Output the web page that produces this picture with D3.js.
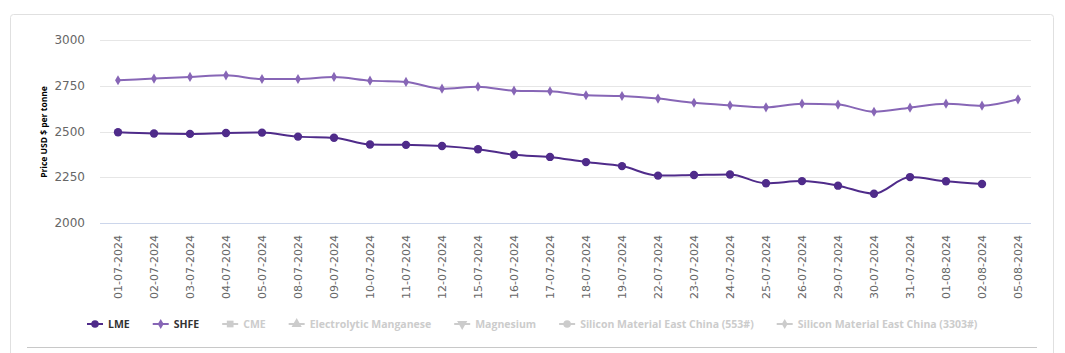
<!DOCTYPE html>
<html>
<head>
<meta charset="utf-8">
<script src="https://cdn.jsdelivr.net/npm/d3@7/dist/d3.min.js"></script>
<style>
  body { margin: 0; background: #fff; }
  svg { display: block; font-family: "DejaVu Sans", sans-serif; }
  .frame { fill: none; stroke: #e0e0e0; stroke-width: 1; }
  .yLabel { fill: #666; font-size: 12px; text-anchor: end; }
  .xLabel { fill: #666; font-size: 11px; text-anchor: end; }
  .asisTitle { fill: #000; font-size: 8.5px; font-weight: bold; text-anchor: middle; font-family: "Open Sans", sans-serif; }
  .legendText { font-size: 10.5px; font-weight: bold; font-family: "Open Sans", sans-serif; }
</style>
</head>
<body>
<svg width="1065" height="353"></svg>
<script>
// данные
var dates = ["01-07-2024","02-07-2024","03-07-2024","04-07-2024","05-07-2024","08-07-2024","09-07-2024",
  "10-07-2024","11-07-2024","12-07-2024","15-07-2024","16-07-2024","17-07-2024","18-07-2024","19-07-2024",
  "22-07-2024","23-07-2024","24-07-2024","25-07-2024","26-07-2024","29-07-2024","30-07-2024","31-07-2024",
  "01-08-2024","02-08-2024","05-08-2024"];
var lme = [2496,2489,2487,2492,2494,2472,2466,2429,2427,2421,2403,2373,2361,2333,2311,
  2259,2262,2265,2217,2229,2204,2160,2251,2228,2213,null];
var shfe = [2780,2789,2798,2807,2787,2787,2798,2778,2771,2734,2745,2723,2720,2698,2694,
  2680,2657,2643,2632,2652,2647,2608,2630,2652,2641,2676];
var yTicks = [2000, 2250, 2500, 2750, 3000];
var legendNames = ["LME","SHFE","CME","Electrolytic Manganese","Magnesium",
  "Silicon Material East China (553#)","Silicon Material East China (3303#)"];

var prop = { lmeColor: "#4f2b8a", shfeColor: "#8766b6", offColor: "#cccccc" };

svg = d3.select("svg");

// рамка
svg.append("rect").attr("class", "frame")
  .attr("x", 10.5).attr("y", 14.5).attr("width", 1043).attr("height", 360).attr("rx", 3);
svg.append("line")
  .attr("x1", 27).attr("x2", 1037).attr("y1", 347.5).attr("y2", 347.5)
  .attr("stroke", "#c8c8c8").attr("stroke-width", 1);

x = d3.scalePoint().domain(dates).range([118, 1018]);
y = d3.scaleLinear().domain([2000, 3000]).range([223, 40]);

// сетка
grid = svg.append("g").attr("class", "grid");
yTicks.forEach(function(t) {
  grid.append("line")
    .attr("x1", 100).attr("x2", 1031)
    .attr("y1", Math.round(y(t)) + 0.5).attr("y2", Math.round(y(t)) + 0.5)
    .attr("stroke", t == 2000 ? "#ccd6eb" : "#e6e6e6");
  svg.append("text").attr("class", "yLabel")
    .attr("x", 85).attr("y", y(t) + 4)
    .text(t);
});

svg.append("text").attr("class", "asisTitle")
  .attr("transform", "translate(47," + 132 + ") rotate(-90)")
  .text("Price USD $ per tonne");

// подписи оси X
dates.forEach(function(d) {
  svg.append("text").attr("class", "xLabel")
    .attr("transform", "translate(" + [x(d) + 4, 235] + ") rotate(-90)")
    .text(d);
});

function drawSeries(data, color, shape) {
  var pts = dates.map(function(d, i) { return [d, data[i]]; }).filter(function(p) { return p[1] != null; });
  var line = d3.line()
    .x(function(p) { return x(p[0]); })
    .y(function(p) { return y(p[1]); })
    .curve(d3.curveMonotoneX);
  svg.append("path")
    .attr("d", line(pts))
    .attr("fill", "none")
    .attr("stroke", color)
    .attr("stroke-width", 2);
  svg.append("g").selectAll("path")
    .data(pts)
    .enter().append("path")
      .attr("transform", function(p) { return "translate(" + [x(p[0]), y(p[1])] + ")"; })
      .attr("d", shape)
      .attr("fill", color);
}

circleShape = d3.symbol().type(d3.symbolCircle).size(55)();
diamondShape = d3.symbol().type(d3.symbolDiamond).size(30)();

drawSeries(shfe, prop.shfeColor, diamondShape);
drawSeries(lme, prop.lmeColor, circleShape);

// легенда
legendSymbols = [d3.symbolCircle, d3.symbolDiamond, d3.symbolSquare, d3.symbolTriangle,
  d3.symbolTriangle, d3.symbolCircle, d3.symbolDiamond];
legend = svg.append("g").attr("transform", "translate(87,324)");
var lx = 0;
legendNames.forEach(function(name, i) {
  var col = i == 0 ? prop.lmeColor : (i == 1 ? prop.shfeColor : prop.offColor);
  var item = legend.append("g").attr("transform", "translate(" + lx + ",0)");
  item.append("line").attr("x1", 0).attr("x2", 16).attr("y1", 0).attr("y2", 0)
    .attr("stroke", col).attr("stroke-width", 2);
  item.append("path")
    .attr("transform", "translate(8,0)" + (i == 4 ? " rotate(180)" : ""))
    .attr("d", d3.symbol().type(legendSymbols[i]).size(i == 1 || i == 6 ? 30 : 45)())
    .attr("fill", col);
  var t = item.append("text").attr("class", "legendText")
    .attr("x", 21).attr("y", 4)
    .attr("fill", i < 2 ? "#333" : prop.offColor)
    .text(name);
  lx += 21 + t.node().getComputedTextLength() + 23;
});
</script>
</body>
</html>
